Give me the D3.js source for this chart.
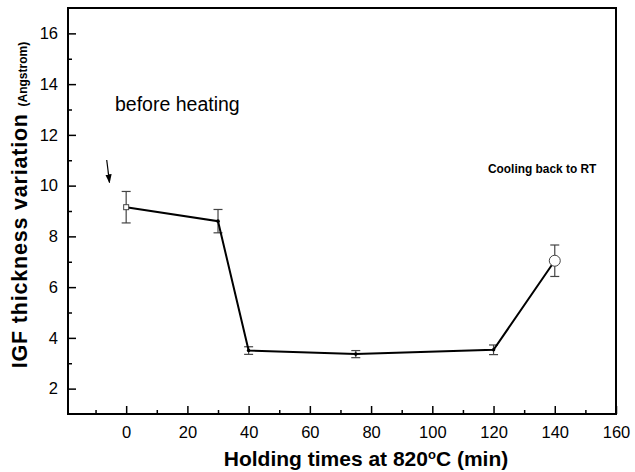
<!DOCTYPE html>
<html><head><meta charset="utf-8">
<script src="https://cdn.jsdelivr.net/npm/d3@7"></script>
<style>body{margin:0;background:#fff}svg{display:block;font-family:"Liberation Sans",Arial,sans-serif}</style>
</head><body><svg id="c" width="635" height="472"></svg>
<script>
const times = [0, 30, 40, 75, 120, 140];
const thickness = [9.15, 8.6, 3.5, 3.36, 3.53, 7.04];
const errors = [0.62, 0.46, 0.15, 0.14, 0.19, 0.62];
const markers = ["square", "dot", "dot", "dot", "dot", "circle"];
const xTicks = [0, 20, 40, 60, 80, 100, 120, 140, 160];
const xMinor = [-10, 10, 30, 50, 70, 90, 110, 130, 150];
const yTicks = [2, 4, 6, 8, 10, 12, 14, 16];
const yMinor = [3, 5, 7, 9, 11, 13, 15];

const svg = d3.select("#c");
const L = 68, R = 616, T = 8, B = 414;
const x = d3.scaleLinear().domain([-19, 160]).range([L, R]);
const y = d3.scaleLinear().domain([1, 17]).range([B, T]);

// frame
svg.append("rect").attr("x", L).attr("y", T).attr("width", R - L).attr("height", B - T)
  .attr("fill", "none").attr("stroke", "#000").attr("stroke-width", 2);

// x axis
const gx = svg.append("g").attr("transform", `translate(0,${B})`)
  .call(d3.axisBottom(x).tickValues(xTicks).tickSize(-8).tickPadding(12).tickFormat(d3.format("d")));
gx.select(".domain").remove();
gx.selectAll(".tick line").attr("stroke-width", 1.5);
gx.selectAll("text").attr("font-size", 16.5).attr("font-family", "Liberation Sans, Arial, sans-serif");
const gxm = svg.append("g").attr("transform", `translate(0,${B})`)
  .call(d3.axisBottom(x).tickValues(xMinor).tickSize(-4).tickFormat(""));
gxm.select(".domain").remove();
gxm.selectAll(".tick line").attr("stroke-width", 1.5);

// y axis
const gy = svg.append("g").attr("transform", `translate(${L},0)`)
  .call(d3.axisLeft(y).tickValues(yTicks).tickSize(-8).tickPadding(10).tickFormat(d3.format("d")));
gy.select(".domain").remove();
gy.selectAll(".tick line").attr("stroke-width", 1.5);
gy.selectAll("text").attr("font-size", 16.5).attr("font-family", "Liberation Sans, Arial, sans-serif");
const gym = svg.append("g").attr("transform", `translate(${L},0)`)
  .call(d3.axisLeft(y).tickValues(yMinor).tickSize(-4).tickFormat(""));
gym.select(".domain").remove();
gym.selectAll(".tick line").attr("stroke-width", 1.5);

const data = times.map((t, i) => ({t, v: thickness[i], e: errors[i], m: markers[i]}));

// error bars
const eb = svg.append("g").attr("stroke", "#444").attr("stroke-width", 1.2);
data.forEach(d => {
  eb.append("line").attr("x1", x(d.t)).attr("x2", x(d.t)).attr("y1", y(d.v + d.e)).attr("y2", y(d.v - d.e));
  [d.v + d.e, d.v - d.e].forEach(v => eb.append("line").attr("x1", x(d.t) - 4.5).attr("x2", x(d.t) + 4.5).attr("y1", y(v)).attr("y2", y(v)));
});

// line
svg.append("path").datum(data)
  .attr("d", d3.line().x(d => x(d.t)).y(d => y(d.v)))
  .attr("fill", "none").attr("stroke", "#000").attr("stroke-width", 2);

// markers
data.forEach(d => {
  if (d.m === "square") {
    svg.append("rect").attr("x", x(d.t) - 2.5).attr("y", y(d.v) - 2.5).attr("width", 5).attr("height", 5)
      .attr("fill", "#fff").attr("stroke", "#444").attr("stroke-width", 1);
  } else if (d.m === "circle") {
    svg.append("circle").attr("cx", x(d.t)).attr("cy", y(d.v)).attr("r", 5.5)
      .attr("fill", "#fff").attr("stroke", "#444").attr("stroke-width", 1);
  } else {
    svg.append("circle").attr("cx", x(d.t)).attr("cy", y(d.v)).attr("r", 1.8).attr("fill", "#000");
  }
});

// arrow
svg.append("defs").append("marker").attr("id", "ah").attr("viewBox", "0 0 10 10")
  .attr("refX", 9).attr("refY", 5).attr("markerWidth", 9).attr("markerHeight", 9)
  .attr("markerUnits", "userSpaceOnUse").attr("orient", "auto")
  .append("path").attr("d", "M0,1.5 L10,5 L0,8.5 Z").attr("fill", "#000");
svg.append("line").attr("x1", 106.7).attr("y1", 160).attr("x2", 109.5).attr("y2", 182.5)
  .attr("stroke", "#000").attr("stroke-width", 1.2).attr("marker-end", "url(#ah)");

// annotations
svg.append("text").attr("x", 115).attr("y", 111).attr("font-size", 19.5).text("before heating");
svg.append("text").attr("x", 488).attr("y", 173).attr("font-size", 11.9).attr("font-weight", "bold").text("Cooling back to RT");

// axis titles
const xt = svg.append("text").attr("x", 366).attr("y", 466).attr("text-anchor", "middle")
  .attr("font-size", 21).attr("font-weight", "bold");
xt.append("tspan").text("Holding times at 820");
xt.append("tspan").attr("dy", -7).attr("font-size", 13).text("o");
xt.append("tspan").attr("dy", 7).text("C (min)");

const yt = svg.append("text").attr("transform", "translate(27,205) rotate(-90)").attr("text-anchor", "middle")
  .attr("font-weight", "bold");
yt.append("tspan").attr("font-size", 21.5).attr("letter-spacing", 0.8).text("IGF thickness variation ");
yt.append("tspan").attr("font-size", 12).text("(Angstrom)");
</script></body></html>
